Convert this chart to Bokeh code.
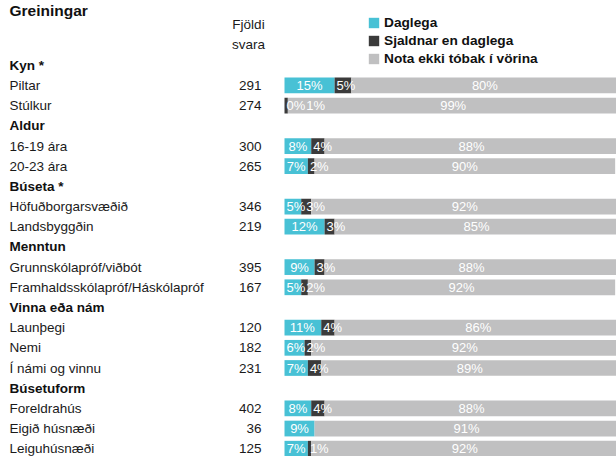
from bokeh.plotting import figure
from bokeh.models import Range1d, ColumnDataSource, LabelSet, Label, Legend, LegendItem
from bokeh.core.properties import value
from bokeh.embed import file_html
from bokeh.resources import INLINE

# ---- data ----
groups = ["Kyn *", "Aldur", "Búseta *", "Menntun", "Vinna eða nám", "Búsetuform"]
group_sizes = [2, 2, 2, 2, 3, 3]
categories = ["Piltar", "Stúlkur",
              "16-19 ára", "20-23 ára",
              "Höfuðborgarsvæðið", "Landsbyggðin",
              "Grunnskólapróf/viðbót", "Framhaldsskólapróf/Háskólapróf",
              "Launþegi", "Nemi", "Í námi og vinnu",
              "Foreldrahús", "Eigið húsnæði", "Leiguhúsnæði"]
counts = [291, 274, 300, 265, 346, 219, 395, 167, 120, 182, 231, 402, 36, 125]
daglega = [15, 0, 8, 7, 5, 12, 9, 5, 11, 6, 7, 8, 9, 7]
sjaldnar = [5, 1, 4, 2, 3, 3, 3, 2, 4, 2, 4, 4, None, 1]
nota = [80, 99, 88, 90, 92, 85, 88, 92, 86, 92, 89, 88, 91, 92]
series_names = ["Daglega", "Sjaldnar en daglega", "Nota ekki tóbak í vörina"]
colors = ["#48C1D5", "#3B3B3B", "#C0C0C1"]

FONT = "Liberation Sans"
VAL_SIZE = 13
W, H = 616, 456
X0_PX = 284.0      # pixel of 0 %
PX = 3.34          # pixels per percent
ROW0_PX = 64.8     # pixel centre of first row
ROW_PX = 20.18     # row pitch

# ---- row layout ----
header_y, item_y = [], []
r = 0
for g, n in zip(groups, group_sizes):
    header_y.append(r)
    r += 1
    for _ in range(n):
        item_y.append(r)
        r += 1

s_vals = [0 if v is None else v for v in sjaldnar]
src = ColumnDataSource(dict(
    y=item_y, cat=categories, cnt=[str(c) for c in counts],
    d=daglega, s=s_vals, n=nota))
hsrc = ColumnDataSource(dict(y=header_y, lab=groups))

p = figure(width=W, height=H, output_backend="svg", toolbar_location=None,
           x_range=Range1d(-X0_PX / PX, (W - X0_PX) / PX),
           y_range=Range1d((H - ROW0_PX) / ROW_PX, -ROW0_PX / ROW_PX),
           min_border=0, x_axis_location=None, y_axis_location=None,
           outline_line_color=None, background_fill_color="white")
p.grid.visible = False

rs = p.hbar_stack(["d", "s", "n"], y="y", height=0.78, color=colors,
                  line_color=None, source=src)

# segment value labels
def text_w(t, size=VAL_SIZE):
    return sum(0.889 if ch == "%" else 0.556 for ch in t) * size

lx, ly, lt = [], [], []
for i, y in enumerate(item_y):
    start = 0.0
    prev_end = -1e9
    for v in (daglega[i], sjaldnar[i], nota[i]):
        if v is None:
            continue
        t = f"{v}%"
        w = text_w(t)
        seg = v * PX
        sp = start * PX
        if w + 4 <= seg:
            left = sp + (seg - w) / 2
        else:
            left = sp + 2
        left = max(left, prev_end + 1)
        prev_end = left + w
        lx.append(left / PX)
        ly.append(y)
        lt.append(t)
        start += v
vsrc = ColumnDataSource(dict(x=lx, y=ly, t=lt))
p.add_layout(LabelSet(x="x", y="y", text="t", source=vsrc, text_color="white",
                      text_font=value(FONT), text_font_size=f"{VAL_SIZE}px",
                      text_align="left", text_baseline="middle"))

# category labels and counts
p.add_layout(LabelSet(x=9, y="y", x_units="screen", text="cat", source=src,
                      text_font=value(FONT), text_font_size="13.5px", text_color="#1a1a1a",
                      text_baseline="middle"))
p.add_layout(LabelSet(x=261, y="y", x_units="screen", text="cnt", source=src,
                      text_font=value(FONT), text_font_size="13.5px", text_color="#1a1a1a",
                      text_align="right", text_baseline="middle"))
p.add_layout(LabelSet(x=9, y="y", x_units="screen", text="lab", source=hsrc,
                      text_font=value(FONT), text_font_size="13.5px",
                      text_font_style="bold", text_color="#111111",
                      text_baseline="middle"))

p.add_layout(Label(x=9, y=H - 10, x_units="screen", y_units="screen",
                   text="Greiningar", text_font=FONT, text_font_size="15.5px",
                   text_font_style="bold", text_color="#111111",
                   text_baseline="middle"))
for k, t in enumerate(["Fjöldi", "svara"]):
    p.add_layout(Label(x=248, y=H - 24 - 19.5 * k, x_units="screen", y_units="screen",
                       text=t, text_font=FONT, text_font_size="13.5px",
                       text_color="#1a1a1a", text_align="center",
                       text_baseline="middle"))

legend = Legend(items=[LegendItem(label=nm, renderers=[rr]) for nm, rr in zip(series_names, rs)],
                location=(367, H - 66), orientation="vertical",
                glyph_width=13, glyph_height=13, label_height=13, spacing=3,
                label_standoff=4, padding=0, margin=0,
                label_text_font=FONT, label_text_font_size="13.7px",
                label_text_font_style="bold", label_text_color="#111111",
                border_line_color=None, background_fill_alpha=0)
p.add_layout(legend, "center")

open("out.html", "w").write(file_html(p, INLINE))
